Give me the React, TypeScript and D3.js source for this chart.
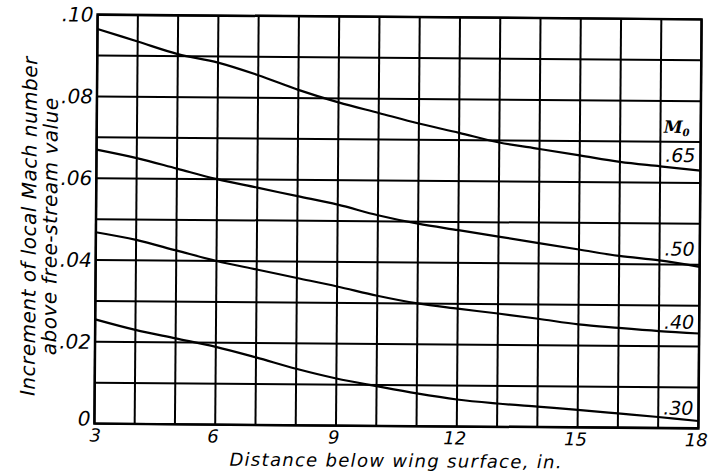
import React from 'react';
import { scaleLinear, line, curveCatmullRom, range } from 'd3';

// distance below wing surface, in.
const distance = [3, 4, 5, 6, 7, 8, 9, 10, 11, 12, 13, 14, 15, 16, 17, 18];

// increment of local Mach number for each free-stream Mach number
const m65 = [0.0965, 0.0935, 0.0905, 0.0885, 0.0855, 0.082, 0.079, 0.0765, 0.074, 0.0718, 0.0695, 0.068, 0.0665, 0.065, 0.064, 0.063];
const m50 = [0.067, 0.065, 0.0625, 0.06, 0.058, 0.056, 0.054, 0.0515, 0.0495, 0.048, 0.0465, 0.045, 0.0435, 0.042, 0.041, 0.0395];
const m40 = [0.0468, 0.045, 0.0425, 0.04, 0.038, 0.036, 0.034, 0.0318, 0.03, 0.0288, 0.0277, 0.0265, 0.0252, 0.0244, 0.0237, 0.0232];
const m30 = [0.0255, 0.023, 0.021, 0.019, 0.0165, 0.0138, 0.0115, 0.0097, 0.008, 0.0066, 0.0057, 0.005, 0.0043, 0.0035, 0.0027, 0.0018];

const seriesLabels = ['.65', '.50', '.40', '.30'];
const labelLevels = [0.0651, 0.0422, 0.0243, 0.0033];

const xTicks = [3, 6, 9, 12, 15, 18];
const yTicks = [0, 0.02, 0.04, 0.06, 0.08, 0.1];
const yTickLabels = ['0', '.02', '.04', '.06', '.08', '.10'];

const left = 96;
const top = 17;
const w = 604;
const h = 409;

const font = "'DejaVu Sans', sans-serif";

const App = () => {
  const x = scaleLinear().domain([3, 18]).range([left, left + w]);
  const y = scaleLinear().domain([0, 0.1]).range([top + h, top]);

  const path = line<number>()
    .x((d, i) => x(distance[i]))
    .y(d => y(d))
    .curve(curveCatmullRom);

  const series = [m65, m50, m40, m30];
  const cx = left + w / 2;
  const cy = top + h / 2;

  return (
    <svg width={721} height={476} style={{ display: 'block', position: 'absolute', left: 0, top: 0 }}>
      <rect width={721} height={476} fill="#fff" />
      <g transform={`rotate(0.45, ${cx}, ${cy})`} fontFamily={font} fontStyle="italic">
        {/* grid */}
        {range(3, 19).map(v => (
          <line key={'v' + v} x1={x(v)} x2={x(v)} y1={y(0)} y2={y(0.1)} stroke="#000" strokeWidth={2} />
        ))}
        {range(0, 11).map(v => (
          <line key={'h' + v} x1={x(3)} x2={x(18)} y1={y(v / 100)} y2={y(v / 100)} stroke="#000" strokeWidth={2} />
        ))}
        <rect x={left} y={top} width={w} height={h} fill="none" stroke="#000" strokeWidth={2.5} />

        {/* curves */}
        {series.map((s, i) => (
          <path key={i} d={path(s) || ''} fill="none" stroke="#000" strokeWidth={2.2} />
        ))}

        {/* curve labels */}
        <text x={x(17.5) - 4} y={y(0.0722)} textAnchor="middle" fontSize={17} fontFamily="'DejaVu Serif', serif" fontWeight="bold">
          M<tspan fontSize={10} dy={3}>0</tspan>
        </text>
        {seriesLabels.map((l, i) => (
          <text key={l} x={x(17.5)} y={y(labelLevels[i])} textAnchor="middle" fontSize={19}>{l}</text>
        ))}

        {/* y ticks */}
        {yTicks.map((t, i) => (
          <text key={t} x={left - 4} y={t === 0 ? y(t) + 2 : y(t) + 7} textAnchor="end" fontSize={20}>{yTickLabels[i]}</text>
        ))}
        {/* x ticks */}
        {xTicks.map(t => (
          <text key={t} x={t === 3 ? x(t) + 1 : x(t) - 2} y={y(0) + 18} textAnchor="middle" fontSize={18}>{t}</text>
        ))}

        <text x={x(10.5)} y={y(0) + 41} textAnchor="middle" fontSize={18} letterSpacing={1.3}>Distance below wing surface, in.</text>
        <g transform={`translate(36, 229) rotate(-90)`}>
          <text x={0} y={0} textAnchor="middle" fontSize={20} letterSpacing={0.5}>Increment of local Mach number</text>
          <text x={0} y={21} textAnchor="middle" fontSize={20} letterSpacing={0.5}>above free-stream value</text>
        </g>
      </g>
    </svg>
  );
};

export default App;
